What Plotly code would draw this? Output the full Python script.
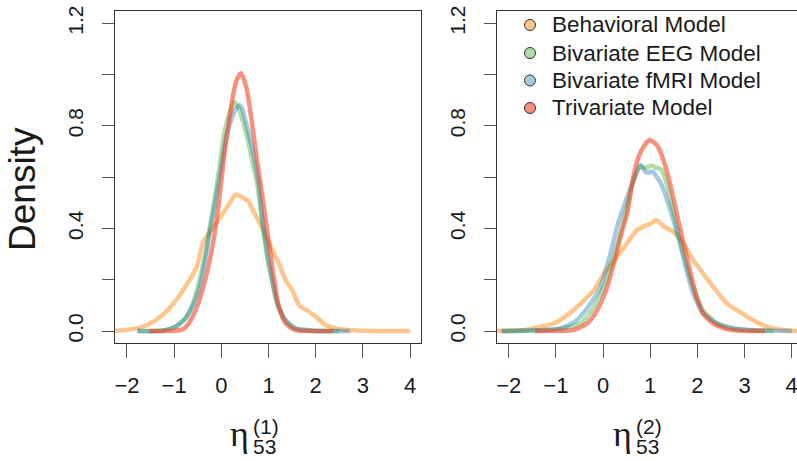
import plotly.graph_objects as go

# ---- posterior density curves for eta_53^(1) (left panel) ----
beh1_x = [-2.35, -2.03, -1.75, -1.50, -1.25, -1.01, -0.76, -0.52, -0.38, -0.16, 0.02, 0.18, 0.30,
          0.45, 0.58, 0.68, 0.76, 0.87, 1.01, 1.12, 1.22, 1.36, 1.50, 1.65, 1.86, 2.00, 2.21,
          2.49, 2.75, 3.00, 3.50, 4.00]
beh1_y = [0.0, 0.004, 0.012, 0.03, 0.062, 0.108, 0.173, 0.25, 0.348, 0.407, 0.455, 0.50, 0.532,
          0.52, 0.504, 0.465, 0.44, 0.40, 0.342, 0.30, 0.264, 0.199, 0.16, 0.10, 0.075, 0.056,
          0.023, 0.008, 0.003, 0.001, 0.0, 0.0]

eeg1_x = [-1.78, -1.25, -0.97, -0.76, -0.60, -0.46, -0.33, -0.23, -0.12, -0.03, 0.05, 0.15, 0.27,
          0.37, 0.47, 0.58, 0.68, 0.76, 0.87, 0.97, 1.08, 1.19, 1.36, 1.57, 1.93, 2.50]
eeg1_y = [0.0, 0.002, 0.017, 0.05, 0.11, 0.20, 0.31, 0.42, 0.54, 0.65, 0.758, 0.836, 0.893,
          0.868, 0.81, 0.73, 0.64, 0.576, 0.42, 0.29, 0.19, 0.10, 0.04, 0.01, 0.0, 0.0]

fmri1_x = [-1.78, -1.25, -0.97, -0.76, -0.58, -0.44, -0.33, -0.23, -0.12, -0.02, 0.12, 0.26, 0.33,
           0.39, 0.44, 0.54, 0.68, 0.79, 0.87, 0.98, 1.08, 1.19, 1.36, 1.57, 1.93, 2.30, 2.73]
fmri1_y = [0.0, 0.001, 0.017, 0.05, 0.108, 0.186, 0.29, 0.40, 0.51, 0.62, 0.77, 0.848, 0.872,
           0.88, 0.868, 0.80, 0.69, 0.576, 0.44, 0.30, 0.20, 0.108, 0.043, 0.01, 0.002, 0.0, 0.0]

tri1_x = [-1.53, -1.20, -0.95, -0.80, -0.69, -0.54, -0.40, -0.26, -0.15, -0.04, 0.05, 0.15, 0.26,
          0.34, 0.42, 0.50, 0.58, 0.68, 0.76, 0.83, 0.97, 1.05, 1.12, 1.22, 1.36, 1.57, 1.90, 2.37]
tri1_y = [0.0, 0.0, 0.002, 0.008, 0.03, 0.082, 0.16, 0.264, 0.37, 0.52, 0.667, 0.80, 0.93,
          0.985, 1.005, 0.97, 0.90, 0.77, 0.66, 0.576, 0.394, 0.29, 0.20, 0.095, 0.03, 0.003, 0.0, 0.0]

# ---- posterior density curves for eta_53^(2) (right panel) ----
beh2_x = [-2.31, -1.68, -1.32, -1.04, -0.76, -0.47, -0.19, 0.02, 0.30, 0.51, 0.72, 0.92, 1.03,
          1.12, 1.31, 1.49, 1.70, 1.91, 2.12, 2.33, 2.62, 2.83, 3.11, 3.47, 3.82, 4.15]
beh2_y = [0.0, 0.004, 0.017, 0.03, 0.062, 0.108, 0.16, 0.225, 0.29, 0.342, 0.394, 0.413, 0.42,
          0.433, 0.405, 0.387, 0.342, 0.277, 0.225, 0.173, 0.108, 0.082, 0.05, 0.017, 0.004, 0.0]

eeg2_x = [-2.15, -1.50, -1.00, -0.47, -0.19, 0.02, 0.23, 0.44, 0.65, 0.78, 0.89, 1.03, 1.10,
          1.17, 1.24, 1.35, 1.49, 1.70, 1.91, 2.12, 2.41, 2.76, 3.20, 3.61]
eeg2_y = [0.0, 0.002, 0.006, 0.03, 0.095, 0.173, 0.29, 0.433, 0.589, 0.641, 0.635, 0.645, 0.638,
          0.635, 0.628, 0.575, 0.465, 0.303, 0.173, 0.082, 0.03, 0.01, 0.002, 0.0]

fmri2_x = [-2.15, -1.50, -0.90, -0.55, -0.26, -0.05, 0.16, 0.30, 0.44, 0.65, 0.80, 0.92, 1.06,
           1.14, 1.21, 1.35, 1.49, 1.63, 1.70, 1.91, 2.12, 2.41, 2.76, 3.30, 4.00]
fmri2_y = [0.0, 0.002, 0.01, 0.043, 0.108, 0.173, 0.303, 0.407, 0.485, 0.589, 0.647, 0.617, 0.621,
           0.60, 0.582, 0.517, 0.433, 0.342, 0.29, 0.147, 0.069, 0.03, 0.01, 0.002, 0.0]

tri2_x = [-1.44, -1.00, -0.62, -0.33, -0.12, 0.09, 0.23, 0.37, 0.51, 0.62, 0.71, 0.82, 0.98,
          1.14, 1.28, 1.42, 1.56, 1.70, 1.84, 1.98, 2.12, 2.33, 2.62, 2.90, 3.43]
tri2_y = [0.0, 0.001, 0.004, 0.03, 0.082, 0.173, 0.264, 0.368, 0.459, 0.575, 0.654, 0.706, 0.745,
          0.725, 0.667, 0.575, 0.459, 0.348, 0.238, 0.134, 0.069, 0.03, 0.007, 0.001, 0.0]

model_names = ["Behavioral Model", "Bivariate EEG Model", "Bivariate fMRI Model", "Trivariate Model"]
model_colors = ["rgba(255,127,0,0.45)", "rgba(60,170,40,0.40)",
                "rgba(31,120,180,0.40)", "rgba(245,70,40,0.60)"]

x_ticks = [-2, -1, 0, 1, 2, 3, 4]
y_ticks = [0.0, 0.2, 0.4, 0.6, 0.8, 1.0, 1.2]
y_tick_text = ["0.0", "", "0.4", "", "0.8", "", "1.2"]

# ---- page geometry (pixels) ----
W, H = 797, 461
ML, MR, MT, MB = 115, 0, 11, 118
PW, PH = W - ML - MR, H - MT - MB


def px(xp):
    return (xp - ML) / PW


def py(yp):
    return (H - MB - yp) / PH


FONT = "Liberation Sans, Arial, Helvetica, sans-serif"
SERIF = "Liberation Serif, DejaVu Serif, serif"
AX = "#333333"
TXT = "#1a1a1a"

fig = go.Figure()

panels = [
    ("x", "y", [(beh1_x, beh1_y), (eeg1_x, eeg1_y), (fmri1_x, fmri1_y), (tri1_x, tri1_y)]),
    ("x2", "y2", [(beh2_x, beh2_y), (eeg2_x, eeg2_y), (fmri2_x, fmri2_y), (tri2_x, tri2_y)]),
]
for xa, ya, curves in panels:
    for (cx, cy), col, name in zip(curves, model_colors, model_names):
        fig.add_trace(go.Scatter(x=cx, y=cy, mode="lines", xaxis=xa, yaxis=ya, name=name,
                                 line=dict(color=col, width=4.5, shape="spline", smoothing=0.6),
                                 showlegend=False, hoverinfo="skip"))

xcommon = dict(tickmode="array", tickvals=x_ticks,
               ticktext=[str(v).replace("-", "\u2212") for v in x_ticks],
               ticks="outside", ticklen=14, tickcolor="#555555", tickwidth=1,
               showline=True, linecolor=AX, linewidth=1, mirror=True,
               showgrid=False, zeroline=False, tickfont=dict(family=FONT, size=22, color=TXT),
               ticklabelstandoff=9, ticklabeloverflow="allow")
ycommon = dict(tickmode="array", tickvals=y_ticks, ticktext=y_tick_text, tickangle=-90,
               ticks="outside", ticklen=12, tickcolor="#555555", tickwidth=1,
               showline=True, linecolor=AX, linewidth=1,
               showgrid=False, zeroline=False, tickfont=dict(family=FONT, size=21, color=TXT),
               range=[-0.0468, 1.2477], ticklabelstandoff=11)

fig.update_layout(
    width=W, height=H, margin=dict(l=ML, r=MR, t=MT, b=MB, autoexpand=False),
    paper_bgcolor="white", plot_bgcolor="white", showlegend=False,
    xaxis=dict(domain=[0, px(421)], range=[-2.254, 4.233], anchor="y", **xcommon),
    yaxis=dict(anchor="x", mirror=True, **ycommon),
    xaxis2=dict(domain=[px(497), 1], range=[-2.248, 4.112], anchor="y2", **xcommon),
    yaxis2=dict(anchor="x2", mirror=False, **ycommon),
    font=dict(family=FONT),
)

# legend key: filled circles with a thin outline, label to the right
legend_rows = [25, 53, 80.5, 108]
for name, col, ry in zip(model_names, model_colors, legend_rows):
    fig.add_shape(type="circle", xref="paper", yref="paper", xsizemode="pixel", ysizemode="pixel",
                  xanchor=px(530), yanchor=py(ry), x0=-5.5, x1=5.5, y0=-5.5, y1=5.5,
                  fillcolor=col, line=dict(color="#333333", width=1))
    fig.add_annotation(text=name, xref="paper", yref="paper", x=px(550), y=py(ry),
                       xanchor="left", yanchor="middle", showarrow=False,
                       font=dict(size=22.5, family=FONT, color=TXT))

# axis titles: "Density" and eta_53 with stacked superscript / subscript
ann = [
    dict(text="Density", x=px(22), y=py(189), textangle=-90, font=dict(size=37, family=FONT, color=TXT)),
    dict(text="\u03b7", x=px(251), y=py(434), xanchor="right", font=dict(size=36, family=SERIF, color=TXT)),
    dict(text="(1)", x=px(251), y=py(426), xanchor="left", font=dict(size=21, family=FONT, color=TXT)),
    dict(text="53", x=px(251), y=py(447), xanchor="left", font=dict(size=21, family=FONT, color=TXT)),
    dict(text="\u03b7", x=px(634), y=py(434), xanchor="right", font=dict(size=36, family=SERIF, color=TXT)),
    dict(text="(2)", x=px(634), y=py(426), xanchor="left", font=dict(size=21, family=FONT, color=TXT)),
    dict(text="53", x=px(634), y=py(447), xanchor="left", font=dict(size=21, family=FONT, color=TXT)),
]
for a in ann:
    a.setdefault("xanchor", "center")
    fig.add_annotation(xref="paper", yref="paper", yanchor="middle", showarrow=False, **a)

fig.write_html("out.html")
